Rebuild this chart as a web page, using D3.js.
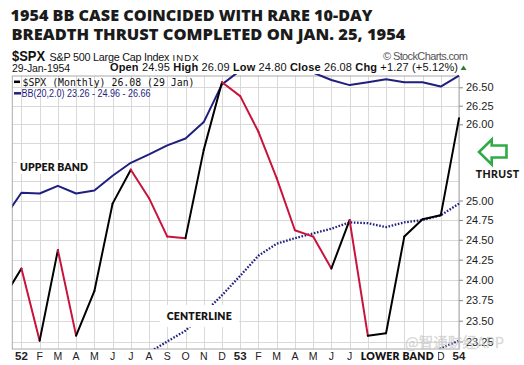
<!DOCTYPE html>
<html><head><meta charset="utf-8">
<script src="https://cdn.jsdelivr.net/npm/d3@7"></script>
<style>body{margin:0;background:#fff}svg{display:block}</style>
</head><body><svg id="c" width="524" height="365"></svg>
<script>
// ---- data (Dec 1951 .. Jan 1954, monthly) ----
// labels hidden in the reference behind annotations are left blank
const monthLabels = ["","52","F","M","A","M","J","J","A","S","O","N","D","53","F","M","A","M","J","J","","","","","D","54"];
const boldLabels = ["52","53","54"];
const priceClose = [23.77,24.14,23.26,24.37,23.32,23.86,24.96,25.40,25.03,24.54,24.52,25.66,26.57,26.38,25.90,25.29,24.62,24.54,24.14,24.75,23.32,23.35,24.54,24.76,24.81,26.08];
const upperBand = [24.76,25.10,25.09,25.19,25.09,25.13,25.32,25.49,25.60,25.72,25.81,26.03,26.54,26.73,26.90,26.95,26.88,26.70,26.60,26.53,26.57,26.61,26.57,26.57,26.51,26.66];
const centerLine = [22.55,22.65,22.72,22.80,22.85,22.90,22.98,23.05,23.12,23.25,23.38,23.59,23.81,24.05,24.30,24.45,24.52,24.58,24.64,24.72,24.71,24.66,24.72,24.75,24.81,24.96];
const lowerBand = [20.30,20.20,20.35,20.41,20.61,20.67,20.64,20.61,20.64,20.78,20.95,21.15,21.09,21.37,21.60,21.95,22.16,22.46,22.68,22.91,22.85,22.71,22.87,22.93,23.17,23.26];
const gridTicks = [23.25,23.50,23.75,24.00,24.25,24.50,24.75,25.00,25.25,25.50,25.75,26.00,26.25,26.50];
const labelTicks = [23.25,23.50,23.75,24.00,24.25,24.50,24.75,25.00,26.00,26.25,26.50];

const svg = d3.select("#c");
svg.append("rect").attr("width",524).attr("height",365).attr("fill","#fff");

const L=12.3, R=459, T=76, B=349;
const x = d3.scaleLinear().domain([0.5,25]).range([L,R]);
const y = d3.scaleLog().domain([23.25,26.5]).range([341.5,87.3]);
const idx = d3.range(priceClose.length);

// Titles
const title = svg.append("g").attr("font-family","'Open Sans',Lato,sans-serif").attr("font-weight",800).attr("font-size",15.8).attr("fill","#1b1b1b");
title.append("text").attr("x",10.5).attr("y",20.7).attr("textLength",362).attr("lengthAdjust","spacingAndGlyphs").text("1954 BB CASE COINCIDED WITH RARE 10-DAY");
title.append("text").attr("x",11.5).attr("y",40.2).attr("textLength",394).attr("lengthAdjust","spacingAndGlyphs").text("BREADTH THRUST COMPLETED ON JAN. 25, 1954");

// header
const hdr = svg.append("g").attr("font-family","'Liberation Sans',Arial,sans-serif").attr("fill","#111");
hdr.append("text").attr("x",12).attr("y",60.5).attr("font-size",14).attr("font-weight","bold").attr("textLength",33).attr("lengthAdjust","spacingAndGlyphs").text("$SPX");
hdr.append("text").attr("x",49.5).attr("y",60.5).attr("font-size",10.8).attr("textLength",120).text("S&P 500 Large Cap Index");
hdr.append("text").attr("x",172.5).attr("y",60.5).attr("font-size",9.5).attr("textLength",26).text("INDX");
hdr.append("text").attr("x",383).attr("y",60).attr("font-size",11).attr("fill","#555").attr("textLength",85).text("\u00A9 StockCharts.com");
hdr.append("text").attr("x",12).attr("y",71.5).attr("font-size",10.5).attr("textLength",58).text("29-Jan-1954");
const info = hdr.append("text").attr("x",110).attr("y",71).attr("font-size",11).attr("textLength",348).attr("lengthAdjust","spacing");
[["Open",1],[" 24.95  ",0],["High",1],[" 26.09  ",0],["Low",1],[" 24.80  ",0],["Close",1],[" 26.08  ",0],["Chg",1],[" +1.27 (+5.12%)",0]].forEach(([t,b])=>{
  info.append("tspan").attr("font-weight",b?"bold":"normal").text(t);
});
svg.append("path").attr("d","M460.5,70 L463.5,65.5 L466.5,70 Z").attr("fill","#2e7d32");

// grid
const grid = svg.append("g").attr("stroke","#d9d9d9").attr("stroke-width",1);
gridTicks.forEach(v=>grid.append("line").attr("x1",L).attr("x2",R).attr("y1",Math.round(y(v))+0.5).attr("y2",Math.round(y(v))+0.5));
d3.range(1,26).forEach(i=>grid.append("line").attr("x1",Math.round(x(i))+0.5).attr("x2",Math.round(x(i))+0.5).attr("y1",T).attr("y2",B));
svg.append("rect").attr("x",L).attr("y",T).attr("width",R-L).attr("height",B-T).attr("fill","none").attr("stroke","#aaa");

// right axis
const yAxis = d3.axisRight(y).tickValues(labelTicks).tickFormat(d3.format(".2f")).tickSize(4).tickPadding(3);
const ax = svg.append("g").attr("transform",`translate(${R},0)`).call(yAxis);
ax.select(".domain").remove();
ax.selectAll("line").attr("stroke","#888");
ax.selectAll("text").attr("font-family","'Liberation Sans',Arial,sans-serif").attr("font-size",11).attr("fill","#222");

// bottom axis
const xa = svg.append("g").attr("font-family","'Liberation Sans',Arial,sans-serif").attr("fill","#222").attr("text-anchor","middle");
monthLabels.forEach((m,i)=>{ if(!m) return;
  xa.append("text").attr("x",x(i)).attr("y",359.5).attr("font-size",boldLabels.includes(m)?11.5:10.5).attr("font-weight",boldLabels.includes(m)?"bold":"normal").text(m);
});

// clip
svg.append("clipPath").attr("id","pc").append("rect").attr("x",L).attr("y",74).attr("width",R-L+1).attr("height",B-74);
const plot = svg.append("g").attr("clip-path","url(#pc)");
const NAVY="#1f1f80", RED="#c8143c";
const line = arr => d3.line().x(i=>x(i)).y(i=>y(arr[i]))(idx);

plot.append("path").attr("d",line(centerLine)).attr("fill","none").attr("stroke",NAVY).attr("stroke-width",2.3).attr("stroke-dasharray","1.6,1.6");
plot.append("path").attr("d",line(lowerBand)).attr("fill","none").attr("stroke",NAVY).attr("stroke-width",2.3).attr("stroke-dasharray","1.6,1.6");
plot.append("path").attr("d",line(upperBand)).attr("fill","none").attr("stroke",NAVY).attr("stroke-width",2).attr("stroke-linejoin","round");
d3.range(1,priceClose.length).forEach(i=>{
  plot.append("line").attr("x1",x(i-1)).attr("y1",y(priceClose[i-1])).attr("x2",x(i)).attr("y2",y(priceClose[i]))
    .attr("stroke",priceClose[i]>=priceClose[i-1]?"#000":RED).attr("stroke-width",2).attr("stroke-linecap","round");
});

// legend
const lg = svg.append("g");
lg.append("line").attr("x1",14).attr("x2",20).attr("y1",81.8).attr("y2",81.8).attr("stroke","#000").attr("stroke-width",2.5);
lg.append("text").attr("x",22.5).attr("y",85.8).attr("font-family","'DejaVu Sans Mono',monospace").attr("font-size",10.5).attr("fill","#111").attr("textLength",172).attr("lengthAdjust","spacingAndGlyphs").text("$SPX (Monthly) 26.08 (29 Jan)");
lg.append("line").attr("x1",14).attr("x2",21).attr("y1",93.3).attr("y2",93.3).attr("stroke",NAVY).attr("stroke-width",2.5);
lg.append("text").attr("x",21.5).attr("y",96.5).attr("font-family","'Liberation Sans',Arial,sans-serif").attr("font-size",10).attr("fill",NAVY).attr("textLength",129).attr("lengthAdjust","spacingAndGlyphs").text("BB(20,2.0) 23.26 - 24.96 - 26.66");

// annotations
const ann = svg.append("g").attr("font-family","Lato,'Open Sans',sans-serif").attr("font-weight",800).attr("fill","#151515");
function box(x0,y0,w,h){ann.append("rect").attr("x",x0).attr("y",y0).attr("width",w).attr("height",h).attr("fill","#fff");}
box(17,160,76,14);
ann.append("text").attr("x",20).attr("y",170.8).attr("font-size",10.5).attr("textLength",68).text("UPPER BAND");
box(160,305,79,22);
ann.append("text").attr("x",166.7).attr("y",319.5).attr("font-size",10.5).attr("textLength",65).text("CENTERLINE");
box(356,350,82,15);
ann.append("text").attr("x",360.7).attr("y",360.3).attr("font-size",10.5).attr("textLength",73).text("LOWER BAND");
box(465,132,59,58);
ann.append("path").attr("d","M479,152 L491.7,139.5 L491.7,145.5 L506.5,145.5 L506.5,157.5 L491.7,157.5 L491.7,164.5 Z").attr("fill","#fff").attr("stroke","#2faa45").attr("stroke-width",2.6).attr("stroke-linejoin","miter");
ann.append("text").attr("x",475.7).attr("y",177.5).attr("font-size",10.5).attr("font-weight",900).attr("textLength",43.5).text("THRUST");

// watermark
svg.append("text").attr("x",405).attr("y",347.5).attr("font-family","'Noto Sans CJK SC',sans-serif").attr("font-size",14.5).attr("fill","#cfcfcf").attr("fill-opacity",0.7).attr("stroke","#bbb").attr("stroke-opacity",0.4).attr("stroke-width",0.5).text("@智通财经APP");
</script></body></html>
